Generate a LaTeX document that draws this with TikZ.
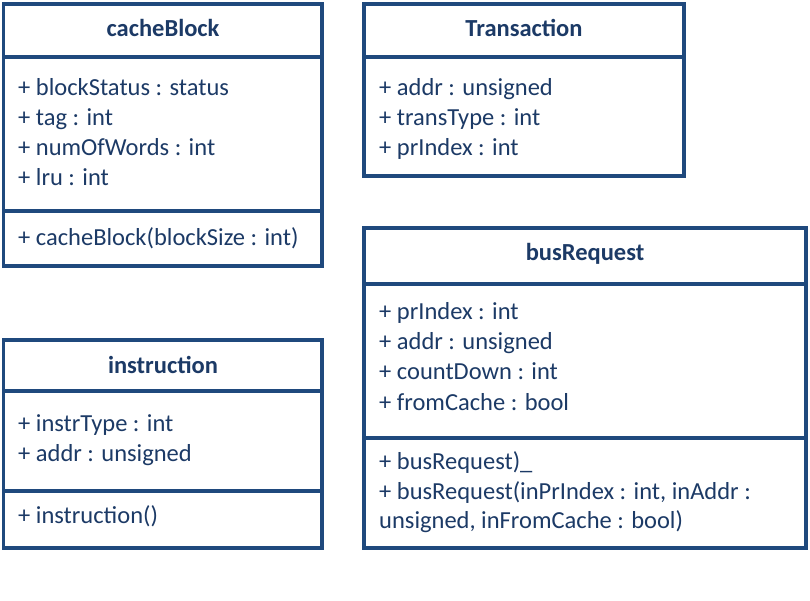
\documentclass[tikz,border=0pt]{standalone}
\usepackage{fontspec}
\setmainfont{Carlito}
\definecolor{umlline}{HTML}{1F497D}
\definecolor{umltext}{HTML}{1C3A66}
\begin{document}
\begin{tikzpicture}[x=1pt,y=-1pt,
  frame/.style={draw=umlline,line width=3.5pt,fill=white},
  sep/.style={draw=umlline,line width=3.5pt},
  title/.style={anchor=base,inner sep=0pt,text=umltext,font=\fontsize{24.5}{28}\selectfont\bfseries},
  member/.style={anchor=base west,inner sep=0pt,text=umltext,font=\fontsize{24.5}{28}\selectfont}]
\useasboundingbox (0,0) rectangle (810,600);

% cacheBlock
\draw[frame] (3.5,4) rectangle (322,266);
\draw[sep] (3.5,57) -- (322,57);
\draw[sep] (3.5,211) -- (322,211);
\node[title] (cbT) at (163,36) {cacheBlock};
\node[member] (cb1) at (18,95) {+ blockStatus : status};
\node[member] (cb2) at (18,125) {+ tag : int};
\node[member] (cb3) at (18,155) {+ numOfWords : int};
\node[member] (cb4) at (18,185) {+ lru : int};
\node[member] (cbM) at (18,245) {+ cacheBlock(blockSize : int)};

% Transaction
\draw[frame] (364,4) rectangle (684,176);
\draw[sep] (364,57) -- (684,57);
\node[title] (trT) at (524,36) {Transaction};
\node[member] (tr1) at (379,95) {+ addr : unsigned};
\node[member] (tr2) at (379,125) {+ transType : int};
\node[member] (tr3) at (379,155) {+ prIndex : int};

% busRequest
\draw[frame] (364,228) rectangle (806,548);
\draw[sep] (364,284) -- (806,284);
\draw[sep] (364,438) -- (806,438);
\node[title] (brT) at (585,260) {busRequest};
\node[member] (br1) at (379,319) {+ prIndex : int};
\node[member] (br2) at (379,349) {+ addr : unsigned};
\node[member] (br3) at (379,379) {+ countDown : int};
\node[member] (br4) at (379,410) {+ fromCache : bool};
\node[member] (brM1) at (379,469) {+ busRequest)\_};
\node[member] (brM2) at (379,499) {+ busRequest(inPrIndex : int, inAddr :};
\node[member] (brM3) at (379,528) {unsigned, inFromCache : bool)};

% instruction
\draw[frame] (3.5,340) rectangle (322,548);
\draw[sep] (3.5,391) -- (322,391);
\draw[sep] (3.5,491) -- (322,491);
\node[title] (inT) at (163,373) {instruction};
\node[member] (in1) at (18,431) {+ instrType : int};
\node[member] (in2) at (18,461) {+ addr : unsigned};
\node[member] (inM) at (18,523) {+ instruction()};
\end{tikzpicture}
\end{document}
